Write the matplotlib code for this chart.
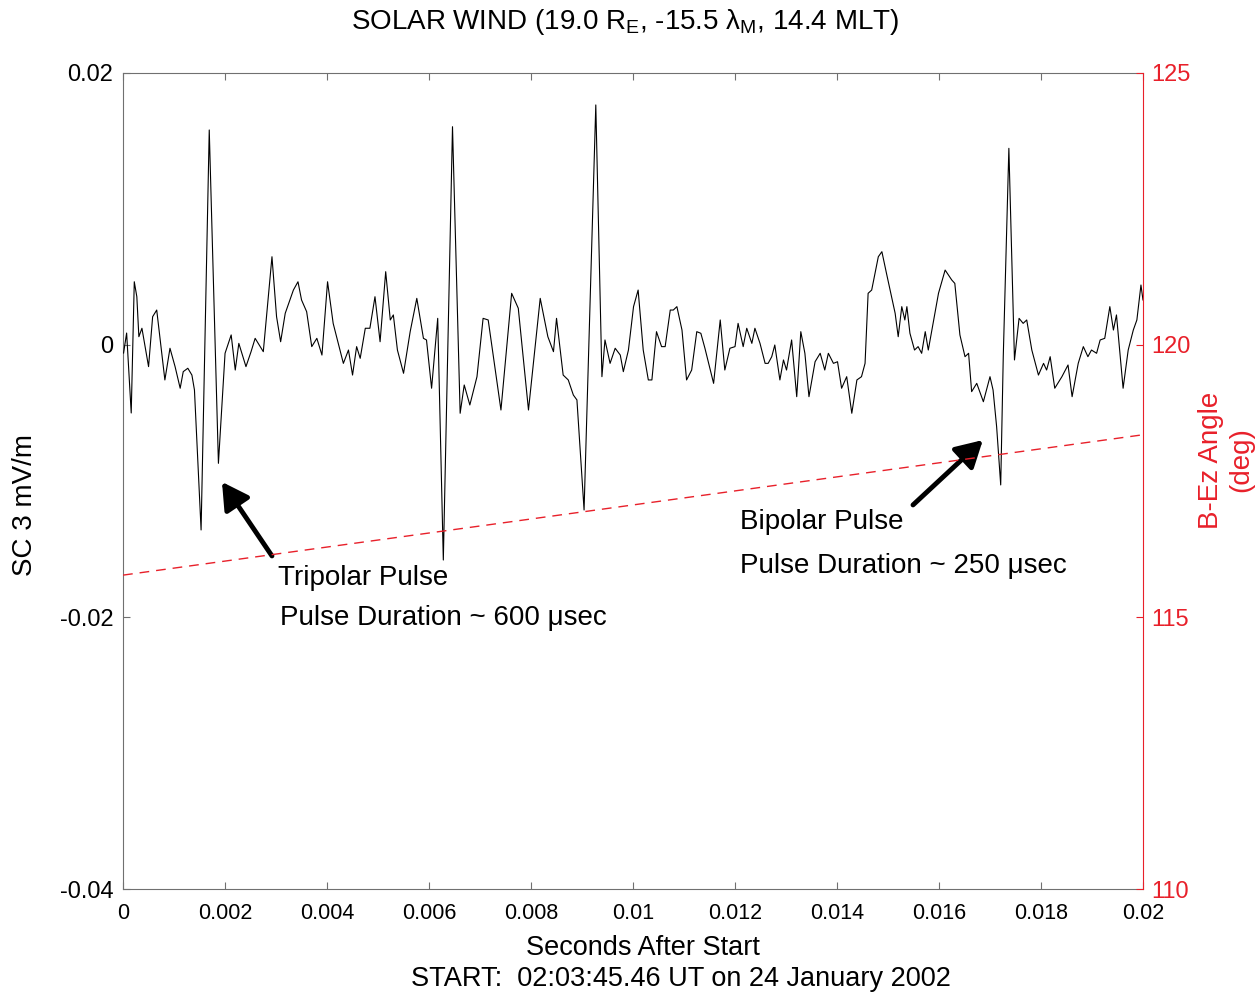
import matplotlib.pyplot as plt

plt.rcParams['font.family'] = ['Liberation Sans', 'DejaVu Sans']
plt.rcParams['mathtext.fontset'] = 'custom'
plt.rcParams['mathtext.rm'] = 'Liberation Sans'
plt.rcParams['mathtext.it'] = 'Liberation Sans:italic'

# SC 3 electric field trace: seconds after start / mV/m
t = [0.00001, 0.00007, 0.00016, 0.00022, 0.00027, 0.00031, 0.00037, 0.0005, 0.00058, 0.00066,
     0.00082, 0.00092, 0.00102, 0.00112, 0.00118, 0.00127, 0.00135, 0.0014, 0.00153, 0.00169,
     0.00187, 0.002, 0.00212, 0.0022, 0.00227, 0.00241, 0.00251, 0.00259, 0.00275, 0.00292,
     0.00301, 0.00309, 0.00318, 0.00334, 0.00343, 0.0035, 0.0036, 0.0037, 0.0038, 0.0039,
     0.00401, 0.00412, 0.00432, 0.00442, 0.0045, 0.00458, 0.00465, 0.00475, 0.00484, 0.00494,
     0.00504, 0.00515, 0.00524, 0.0053, 0.00538, 0.0055, 0.00563, 0.00576, 0.00589, 0.00595,
     0.00605, 0.00617, 0.00628, 0.00646, 0.00661, 0.00669, 0.0068, 0.00694, 0.00706, 0.00716,
     0.00729, 0.00741, 0.00762, 0.00775, 0.00795, 0.00818, 0.00833, 0.00844, 0.0085, 0.00863,
     0.00873, 0.00883, 0.0089, 0.00904, 0.00927, 0.00939, 0.00945, 0.00955, 0.00965, 0.00975,
     0.00981, 0.00991, 0.01001, 0.0101, 0.0102, 0.0103, 0.01037, 0.01046, 0.01056, 0.01063,
     0.01073, 0.01079, 0.01086, 0.01096, 0.01105, 0.01115, 0.01125, 0.01133, 0.01141, 0.01158,
     0.01171, 0.0118, 0.0119, 0.012, 0.01206, 0.01216, 0.01223, 0.01233, 0.01239, 0.01249,
     0.01259, 0.01265, 0.01272, 0.01278, 0.01288, 0.01295, 0.01301, 0.01311, 0.01321, 0.01329,
     0.01337, 0.01345, 0.01357, 0.01367, 0.01376, 0.01383, 0.01393, 0.01401, 0.01409, 0.01419,
     0.01429, 0.01439, 0.01448, 0.01455,
     0.01461, 0.01468, 0.01481, 0.01488, 0.01497, 0.01507, 0.01514, 0.0152, 0.01527, 0.01533,
     0.01537, 0.01543, 0.01552, 0.01559, 0.01566, 0.01573, 0.01579, 0.01586, 0.01599, 0.01612,
     0.01625, 0.01631, 0.01641, 0.01651, 0.01658, 0.01664, 0.01674, 0.01687, 0.017, 0.01706,
     0.01713, 0.01721, 0.01726, 0.01737, 0.01748, 0.01757, 0.01765, 0.01772, 0.01782, 0.01795,
     0.01805, 0.01811, 0.01818, 0.01827, 0.01841, 0.01853, 0.01861, 0.01873, 0.01883, 0.01892,
     0.01899, 0.01909, 0.01916, 0.01925, 0.01935, 0.01942, 0.01948, 0.01961, 0.01971, 0.01981,
     0.01988, 0.01996, 0.02]
e_field = [-0.00059, 0.00088, -0.0050, 0.00465, 0.00355, 0.00061, 0.00123, -0.00159, 0.00208, 0.00257,
           -0.00257, -0.00024, -0.00159, -0.00318, -0.00196, -0.00171, -0.00221, -0.00331, -0.0136, 0.01581,
           -0.0087, -0.00061, 0.00074, -0.00184, 0.00012, -0.00159, -0.00049, 0.00049, -0.00049, 0.00649,
           0.00208, 0.00024, 0.00233, 0.00404, 0.00465, 0.00331, 0.00245, -0.00012, 0.00049, -0.00074,
           0.00465, 0.00159, -0.00135, -0.00037, -0.00221, -0.00012, -0.00098, 0.00123, 0.00123, 0.00355,
           0.00024, 0.00539, 0.00184, 0.00221, -0.00037, -0.00208, 0.00098, 0.00343, 0.00049, 0.00037,
           -0.00318, 0.00196, -0.01581, 0.01605, -0.00502, -0.00294, -0.00441, -0.00233, 0.00196, 0.00184,
           -0.00159, -0.00478, 0.0038, 0.0027, -0.00478, 0.00343, 0.00061, -0.00049, 0.00196, -0.00221,
           -0.00257, -0.00368, -0.00404, -0.01213, 0.01765, -0.00233, 0.00037, -0.00135, -0.00024, -0.00074,
           -0.00196, -0.00037, 0.00282, 0.00404, -0.00037, -0.00257, -0.00257, 0.00098, -0.00012, -0.00012,
           0.00257, 0.00257, 0.00282, 0.0011, -0.00257, -0.00184, 0.00098, 0.00086, -0.00024, -0.00282,
           0.00184, -0.00184, -0.00024, -0.00012, 0.00159, -0.00012, 0.00123, 0.00012, 0.00123, 0.00012,
           -0.00135, -0.00135, -0.00086, 0.0, -0.00257, -0.0011, -0.00184, 0.00037, -0.0038, 0.00098,
           -0.00061, -0.0038, -0.00123, -0.00061, -0.00184, -0.00061, -0.00135, -0.00123, -0.00318, -0.00233,
           -0.00502, -0.00257, -0.00233, -0.00135,
           0.0038, 0.00404, 0.00649, 0.00686, 0.00527, 0.00355, 0.00233, 0.00061, 0.00282, 0.00184,
           0.00282, 0.00086, -0.00037, -0.00012, -0.00061, 0.00098, -0.00037, 0.0011, 0.0038, 0.00551,
           0.00478, 0.00453, 0.00074, -0.00086, -0.00061, -0.00343, -0.00282, -0.00417, -0.00233, -0.00331,
           -0.00601, -0.01029, -0.00086, 0.01446, -0.0011, 0.00196, 0.00159, 0.00184, -0.00037, -0.00221,
           -0.00135, -0.00184, -0.00086, -0.00318, -0.00233, -0.00147, -0.0038, -0.00135, -0.00012, -0.00086,
           -0.00037, -0.00061, 0.00037, 0.00049, 0.00282, 0.0011, 0.00221, -0.00318, -0.00037, 0.0011,
           0.00184, 0.00441, 0.00331]

# B-Ez angle (deg) over the same interval
angle_t = [0.0, 0.02]
angle = [115.77, 118.35]

x_ticks = [0, 0.002, 0.004, 0.006, 0.008, 0.01, 0.012, 0.014, 0.016, 0.018, 0.02]
x_labels = ['0', '0.002', '0.004', '0.006', '0.008', '0.01', '0.012', '0.014', '0.016', '0.018', '0.02']
y_ticks = [-0.04, -0.02, 0, 0.02]
y_labels = ['-0.04', '-0.02', '0', '0.02']
y2_ticks = [110, 115, 120, 125]

red = '#e8202a'
frame = '#707070'

fig = plt.figure(figsize=(12.57, 9.97), dpi=100)
ax = fig.add_axes([0.0979, 0.1083, 0.8114, 0.8185])

ax.plot(t, e_field, color='black', lw=0.8, zorder=3)
ax.set_xlim(0, 0.02)
ax.set_ylim(-0.04, 0.02)
ax.set_xticks(x_ticks)
ax.set_xticklabels(x_labels)
ax.set_yticks(y_ticks)
ax.set_yticklabels(y_labels)
ax.tick_params(axis='x', direction='in', top=True, length=5, width=0.8, color=frame,
               labelsize=15.5, pad=10)
ax.tick_params(axis='y', direction='in', length=5, width=0.8, color=frame,
               labelsize=17, pad=7)
for s in ['left', 'top', 'bottom']:
    ax.spines[s].set_color(frame)
    ax.spines[s].set_linewidth(0.8)
ax.spines['right'].set_visible(False)

ax2 = ax.twinx()
ax2.plot(angle_t, angle, color=red, lw=1.0, dashes=(7, 5), zorder=2)
ax2.set_ylim(110, 125)
ax2.set_yticks(y2_ticks)
ax2.tick_params(axis='y', direction='in', length=5, width=0.8, colors=red,
                labelsize=17, pad=6)
for s in ['left', 'top', 'bottom']:
    ax2.spines[s].set_visible(False)
ax2.spines['right'].set_color(red)
ax2.spines['right'].set_linewidth(0.8)

# Annotations
arrow = dict(arrowstyle='-|>,head_length=0.8,head_width=0.45', lw=3.5, color='black',
             mutation_scale=20, shrinkA=0, shrinkB=0)
ax.annotate('', xy=(0.00194, -0.01007), xytext=(0.00292, -0.01551), arrowprops=arrow)
ax.annotate('', xy=(0.01686, -0.00699), xytext=(0.01549, -0.01176), arrowprops=arrow)
ax.text(0.00304, -0.01713, 'Tripolar Pulse', fontsize=20, ha='left', va='center')
ax.text(0.00308, -0.02007, 'Pulse Duration ~ 600 \u03bcsec', fontsize=20, ha='left', va='center')
ax.text(0.0121, -0.01301, 'Bipolar Pulse', fontsize=20, ha='left', va='center')
ax.text(0.0121, -0.01625, 'Pulse Duration ~ 250 \u03bcsec', fontsize=20, ha='left', va='center')

# Titles and axis labels
fig.text(625 / 1257, 1 - 22 / 997,
         'SOLAR WIND (19.0 R$_\\mathregular{E}$, -15.5 \u03bb$_\\mathregular{M}$, 14.4 MLT)',
         fontsize=20, ha='center', va='center')
fig.text(25 / 1257, 1 - 505 / 997, 'SC 3 mV/m', fontsize=20, rotation=90,
         ha='center', va='center')
fig.text(1226 / 1257, 1 - 460 / 997, 'B-Ez Angle\n(deg)', fontsize=20, rotation=90,
         ha='center', va='center', color=red, linespacing=1.2)
fig.text(643 / 1257, 1 - 948 / 997, 'Seconds After Start', fontsize=19.5, ha='center', va='center')
fig.text(681 / 1257, 1 - 979 / 997, 'START:  02:03:45.46 UT on 24 January 2002', fontsize=19.5,
         ha='center', va='center')

fig.savefig('out.png', dpi=100)
